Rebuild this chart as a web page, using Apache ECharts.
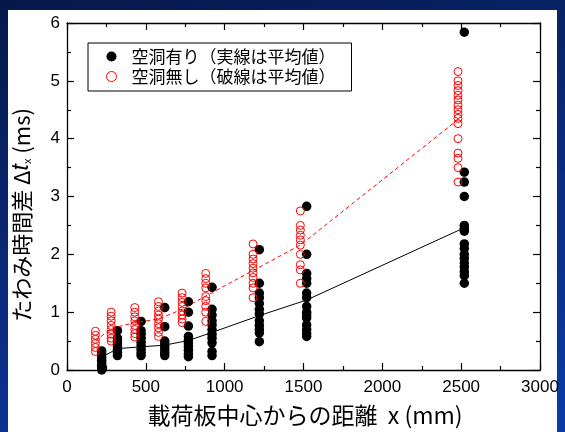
<!DOCTYPE html>
<html>
<head>
<meta charset="utf-8">
<script src="https://cdn.jsdelivr.net/npm/echarts@6/dist/echarts.min.js"></script>
<style>
html,body{margin:0;padding:0;}
body{width:565px;height:432px;overflow:hidden;background:linear-gradient(165deg,#06184a 0%,#0a2c80 55%,#0b3aa8 100%);position:relative;}
#panel{position:absolute;left:8px;top:10px;width:549px;height:422px;background:#fff;}
#chart{position:absolute;left:0;top:0;width:565px;height:432px;}
</style>
</head>
<body>
<div id="panel"></div>
<div id="chart"></div>
<script>
// Distances (mm) of each measurement group, as plotted (red slightly left, black slightly right)
const blackX = [220, 320, 470, 620, 770, 920, 1220, 1520, 2520];
const redX   = [180, 280, 430, 580, 730, 880, 1180, 1480, 2480];

// 空洞有り: individual values (ms) per group
const blackValues = [
  [0.33, 0.28, 0.22, 0.17, 0.12, 0.08, 0.04, 0.0],
  [0.68, 0.55, 0.5, 0.45, 0.4, 0.35, 0.3, 0.25],
  [0.84, 0.68, 0.62, 0.55, 0.48, 0.42, 0.36, 0.3, 0.25],
  [1.08, 0.75, 0.5, 0.45, 0.4, 0.35, 0.3, 0.25],
  [1.18, 1.0, 0.76, 0.58, 0.52, 0.46, 0.4, 0.34, 0.28, 0.23],
  [1.43, 1.05, 0.95, 0.85, 0.78, 0.7, 0.62, 0.55, 0.47, 0.32, 0.25],
  [2.08, 1.5, 1.33, 1.25, 1.15, 1.05, 0.97, 0.85, 0.77, 0.7, 0.64, 0.49],
  [2.83, 2.0, 1.67, 1.58, 1.5, 1.33, 1.25, 1.1, 1.0, 0.95, 0.9, 0.78, 0.7, 0.63, 0.58],
  [5.84, 3.42, 3.25, 3.0, 2.5, 2.45, 2.4, 2.18, 2.1, 2.0, 1.93, 1.85, 1.78, 1.7, 1.63, 1.5]
];
// 空洞無し: individual values (ms) per group
const redValues = [
  [0.67, 0.6, 0.53, 0.46, 0.39, 0.32],
  [1.0, 0.93, 0.85, 0.77, 0.7, 0.62, 0.55, 0.5],
  [1.08, 1.0, 0.92, 0.85, 0.77, 0.7, 0.63, 0.57],
  [1.18, 1.1, 1.02, 0.95, 0.88, 0.8, 0.73, 0.65, 0.58],
  [1.33, 1.25, 1.17, 1.1, 1.02, 0.95, 0.88, 0.82],
  [1.67, 1.58, 1.5, 1.42, 1.27, 1.2, 1.1, 1.0, 0.84],
  [2.18, 2.0, 1.92, 1.84, 1.76, 1.68, 1.6, 1.5, 1.42, 1.25],
  [2.75, 2.5, 2.42, 2.33, 2.25, 2.16, 2.0, 1.82, 1.73, 1.5],
  [5.16, 5.0, 4.92, 4.83, 4.75, 4.67, 4.58, 4.5, 4.42, 4.35, 4.26, 4.0, 3.75, 3.66, 3.5, 3.25]
];
// Mean lines (ms)
const blackMean = [0.22, 0.37, 0.40, 0.43, 0.51, 0.65, 0.94, 1.21, 2.46];
const redMean   = [0.50, 0.72, 0.82, 0.88, 1.05, 1.28, 1.72, 2.16, 4.33];

const xTicks = [0, 500, 1000, 1500, 2000, 2500, 3000];
const yTicks = [0, 1, 2, 3, 4, 5, 6];

const nameBlack = '空洞有り（実線は平均値）';
const nameRed = '空洞無し（破線は平均値）';

function pts(xs, groups) {
  const out = [];
  groups.forEach((g, i) => g.forEach(v => out.push([xs[i], v])));
  return out;
}
function line(xs, ys) { return xs.map((x, i) => [x, ys[i]]); }

const tickFont = {fontFamily: 'Liberation Sans, Arial, sans-serif', fontSize: 17, color: '#000'};
const axisLine = {show: true, onZero: false, lineStyle: {color: '#000', width: 1.3}};
const tick = {inside: true, length: 7, lineStyle: {color: '#000', width: 1.2}};
const minor = {show: true, splitNumber: 2, length: 4, lineStyle: {color: '#000', width: 1.2}};

const chart = echarts.init(document.getElementById('chart'), null, {renderer: 'canvas'});
chart.setOption({
  animation: false,
  backgroundColor: 'transparent',
  grid: {left: 67, right: 25, top: 23, bottom: 62},
  xAxis: [
    {type: 'value', min: xTicks[0], max: xTicks[xTicks.length - 1], interval: 500, position: 'bottom',
     axisLine, axisTick: tick, minorTick: minor, splitLine: {show: false},
     axisLabel: Object.assign({margin: 9, formatter: v => String(v)}, tickFont)},
    {type: 'value', min: xTicks[0], max: xTicks[xTicks.length - 1], interval: 500, position: 'top',
     axisLine, axisTick: tick, minorTick: minor, splitLine: {show: false}, axisLabel: {show: false}}
  ],
  yAxis: [
    {type: 'value', min: yTicks[0], max: yTicks[yTicks.length - 1], interval: 1, position: 'left',
     axisLine, axisTick: tick, minorTick: minor, splitLine: {show: false},
     axisLabel: Object.assign({margin: 7, formatter: v => String(v)}, tickFont)},
    {type: 'value', min: yTicks[0], max: yTicks[yTicks.length - 1], interval: 1, position: 'right',
     axisLine, axisTick: tick, minorTick: minor, splitLine: {show: false}, axisLabel: {show: false}}
  ],
  legend: {
    left: 88, top: 43, orient: 'vertical',
    padding: [5, 16, 6, 18], itemGap: 3,
    borderColor: '#000', borderWidth: 1, backgroundColor: '#fff',
    itemWidth: 10, itemHeight: 10,
    textStyle: {fontFamily: 'Noto Sans CJK JP', fontSize: 17, color: '#000', padding: [0, 0, 0, 10]},
    data: [
      {name: nameBlack, icon: 'circle', itemStyle: {color: '#000', opacity: 1}},
      {name: nameRed, icon: 'circle', itemStyle: {color: 'rgba(0,0,0,0)', borderColor: '#ff0000', borderWidth: 1}}
    ]
  },
  graphic: [
    {type: 'text', x: 305, y: 415, z: 10,
     style: {text: '載荷板中心からの距離  x (mm)', font: '23px "Noto Sans CJK JP"', fill: '#000',
       align: 'center', verticalAlign: 'middle'}},
    {type: 'text', x: 22, y: 215, rotation: Math.PI / 2, z: 10,
     style: {text: '{a|たわみ時間差 Δ}{t|t}{s|x}{a| (ms)}', align: 'center', verticalAlign: 'middle',
       rich: {
         a: {fontFamily: 'Noto Sans CJK JP', fontSize: 22, color: '#000'},
         t: {fontFamily: 'Liberation Sans', fontStyle: 'italic', fontSize: 23, color: '#000'},
         s: {fontFamily: 'Liberation Sans', fontSize: 11, color: '#000', padding: [12, 0, 0, 0]}
       }}}
  ],
  series: [
    {name: nameBlack, type: 'scatter', symbol: 'circle', symbolSize: 9.5,
     itemStyle: {color: '#000', opacity: 1}, data: pts(blackX, blackValues), z: 3},
    {name: nameRed, type: 'scatter', symbol: 'circle', symbolSize: 8,
     itemStyle: {color: 'rgba(0,0,0,0)', borderColor: '#ff0000', borderWidth: 1, opacity: 1},
     data: pts(redX, redValues), z: 4},
    {name: 'blackMean', type: 'line', data: line(blackX, blackMean), symbol: 'none',
     lineStyle: {color: '#000', width: 1}, z: 2},
    {name: 'redMean', type: 'line', data: line(redX, redMean), symbol: 'none',
     lineStyle: {color: '#ff0000', width: 1, type: [4, 3]}, z: 5}
  ]
});
</script>
</body>
</html>
